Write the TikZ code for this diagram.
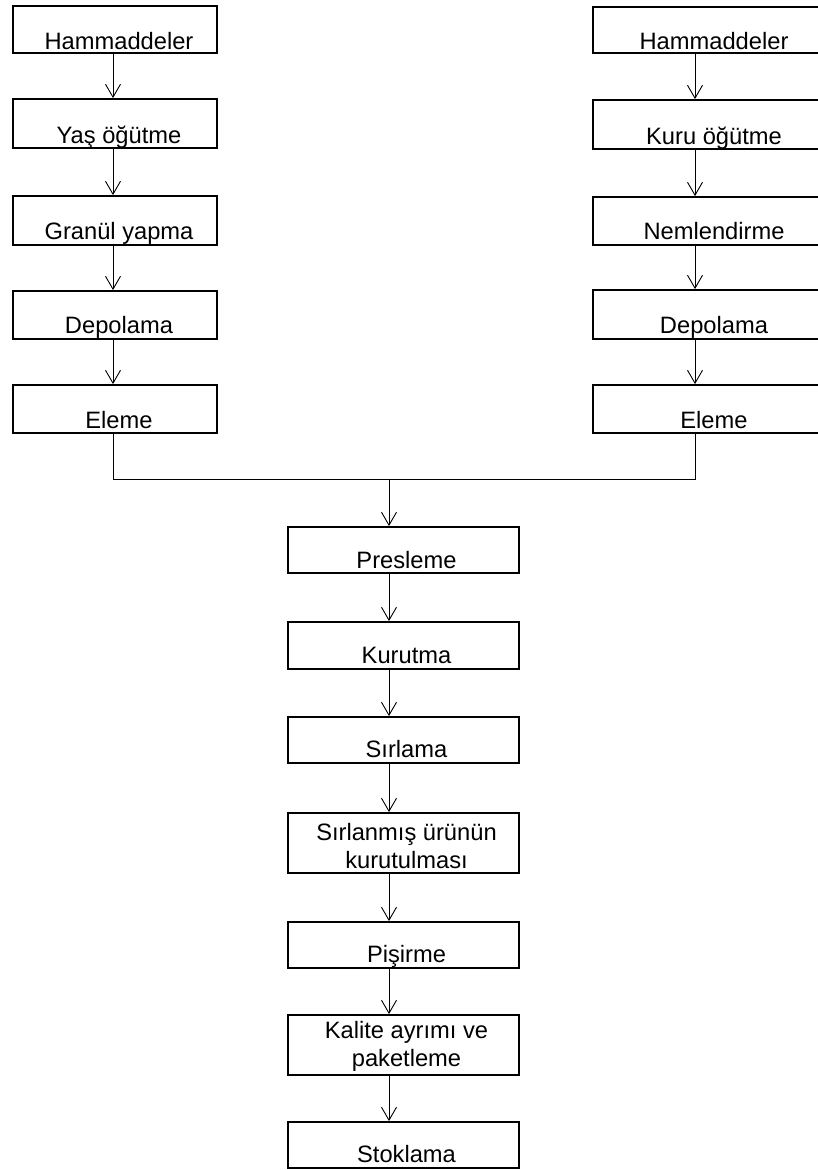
\documentclass[tikz,border=0pt]{standalone}
\usepackage{fontspec}
\setmainfont{Liberation Sans}
\usetikzlibrary{arrows.meta}
\tikzset{
  box/.style={draw, line width=1.8pt, inner sep=0pt, rectangle},
  lbl/.style={anchor=base, inner sep=0pt, font=\fontsize{23.7}{28}\selectfont},
  arr/.style={line width=0.9pt, -{Straight Barb[length=13pt,width=15pt,line width=0.9pt]}},
  ln/.style={line width=0.9pt}
}
\newcommand{\pbox}[5]{%
  \node[box, minimum width={#3pt-#2pt}, minimum height={#5pt-#4pt}] (#1) at ({(#2+#3)/2},{(#4+#5)/2}) {};}
\begin{document}
\begin{tikzpicture}[x=1pt,y=-1pt]
\useasboundingbox (0,0) rectangle (817,1170);
% left column
\pbox{L1}{13}{217}{6}{53}
\pbox{L2}{13}{217}{99}{148}
\pbox{L3}{13}{217}{196}{245}
\pbox{L4}{13}{217}{291}{339}
\pbox{L5}{13}{217}{385}{433}
% right column
\pbox{R1}{593}{835}{7}{53}
\pbox{R2}{593}{835}{100}{149}
\pbox{R3}{593}{835}{197}{245}
\pbox{R4}{593}{835}{290}{339}
\pbox{R5}{593}{835}{385}{433}
% centre column
\pbox{C1}{288}{519}{527}{573}
\pbox{C2}{288}{519}{622}{669}
\pbox{C3}{288}{519}{717}{763}
\pbox{C4}{288}{519}{813}{873}
\pbox{C5}{288}{519}{922}{968}
\pbox{C6}{288}{519}{1015}{1075}
\pbox{C7}{288}{519}{1122}{1168}
% labels
\node[lbl] (L1t) at ([xshift=4pt,yshift=4pt]L1.south) {Hammaddeler};
\node[lbl] (L2t) at ([xshift=4pt,yshift=5pt]L2.south) {Yaş öğütme};
\node[lbl] (L3t) at ([xshift=4pt,yshift=6pt]L3.south) {Granül yapma};
\node[lbl] (L4t) at ([xshift=4pt,yshift=6pt]L4.south) {Depolama};
\node[lbl] (L5t) at ([xshift=4pt,yshift=5pt]L5.south) {Eleme};
\node[lbl] (R1t) at ([yshift=4pt]R1.south) {Hammaddeler};
\node[lbl] (R2t) at ([yshift=5pt]R2.south) {Kuru öğütme};
\node[lbl] (R3t) at ([yshift=6pt]R3.south) {Nemlendirme};
\node[lbl] (R4t) at ([yshift=6pt]R4.south) {Depolama};
\node[lbl] (R5t) at ([yshift=5pt]R5.south) {Eleme};
\node[lbl] (C1t) at ([xshift=3pt,yshift=5pt]C1.south) {Presleme};
\node[lbl] (C2t) at ([xshift=3pt,yshift=6pt]C2.south) {Kurutma};
\node[lbl] (C3t) at ([xshift=3pt,yshift=6pt]C3.south) {Sırlama};
\node[lbl] (C4a) at ([xshift=3pt,yshift=33pt]C4.south) {Sırlanmış ürünün};
\node[lbl] (C4b) at ([xshift=3pt,yshift=5pt]C4.south) {kurutulması};
\node[lbl] (C5t) at ([xshift=3pt,yshift=6pt]C5.south) {Pişirme};
\node[lbl] (C6a) at ([xshift=3pt,yshift=37pt]C6.south) {Kalite ayrımı ve};
\node[lbl] (C6b) at ([xshift=3pt,yshift=9pt]C6.south) {paketleme};
\node[lbl] (C7t) at ([xshift=3pt,yshift=6pt]C7.south) {Stoklama};
% connector guides
\coordinate (xl) at (113,0);
\coordinate (xr) at (695,0);
\coordinate (xc) at (389,0);
\coordinate (m) at (0,479);
% arrows left
\draw[arr] (L1.south -| xl) -- (L2.north -| xl);
\draw[arr] (L2.south -| xl) -- (L3.north -| xl);
\draw[arr] (L3.south -| xl) -- (L4.north -| xl);
\draw[arr] (L4.south -| xl) -- (L5.north -| xl);
% arrows right
\draw[arr] (R1.south -| xr) -- (R2.north -| xr);
\draw[arr] (R2.south -| xr) -- (R3.north -| xr);
\draw[arr] (R3.south -| xr) -- (R4.north -| xr);
\draw[arr] (R4.south -| xr) -- (R5.north -| xr);
% merge
\draw[ln] (L5.south -| xl) -- (xl |- m) -- (xr |- m) -- (R5.south -| xr);
\draw[arr] (xc |- m) -- (C1.north -| xc);
% centre arrows
\draw[arr] (C1.south -| xc) -- (C2.north -| xc);
\draw[arr] (C2.south -| xc) -- (C3.north -| xc);
\draw[arr] (C3.south -| xc) -- (C4.north -| xc);
\draw[arr] (C4.south -| xc) -- (C5.north -| xc);
\draw[arr] (C5.south -| xc) -- (C6.north -| xc);
\draw[arr] (C6.south -| xc) -- (C7.north -| xc);
\end{tikzpicture}
\end{document}
